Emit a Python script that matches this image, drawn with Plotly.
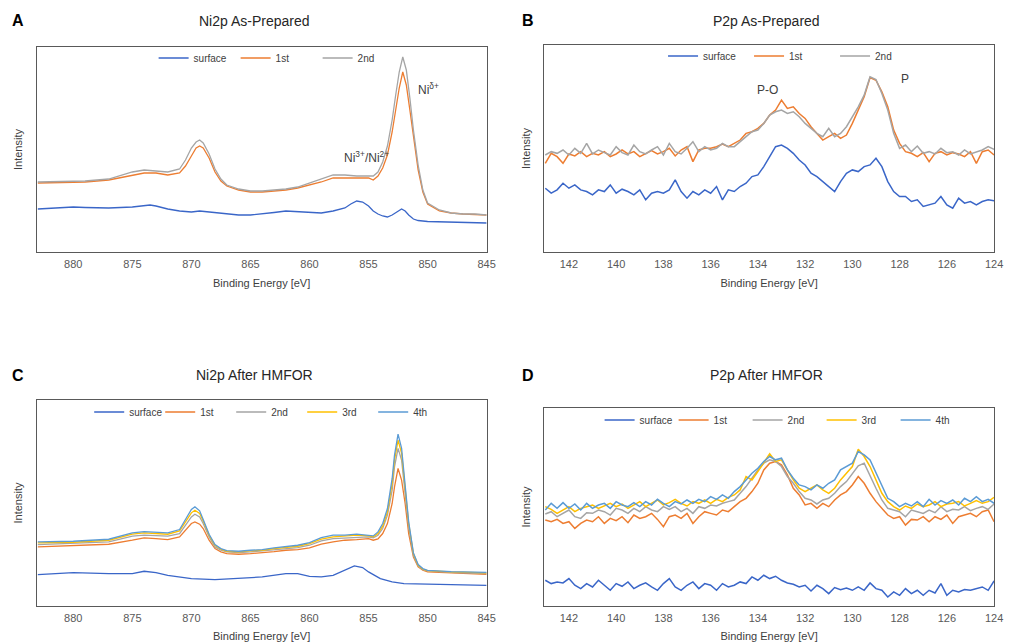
import plotly.graph_objects as go

# ---------------- Panel A: Ni2p As-Prepared ----------------
ni_a_energy = [883, 881, 879, 877, 875, 874, 873, 872, 871, 870.5, 870, 869.6, 869.3, 869, 868.5, 868, 867.5, 867,
               866, 865, 864, 863, 862, 861, 860, 859, 858, 857, 856, 855, 854.6, 854.2, 853.8, 853.4, 853, 852.7,
               852.4, 852.1, 851.8, 851.5, 851.2, 850.8, 850.4, 850, 849, 848, 847, 846, 845]
ni_a_1st = [69, 69.5, 70, 72, 77, 79, 79, 77, 79, 86, 96, 104, 106, 104, 94, 80, 71, 66, 62, 60, 60, 61, 62, 64, 67,
            70, 74, 74, 74, 74, 72, 76, 84, 97, 120, 142, 164, 180, 167, 142, 114, 82, 60, 48, 41, 39, 38, 37.5, 37]
ni_a_2nd = [70, 70.5, 71, 73, 80, 82, 81, 80, 83, 92, 104, 110, 112, 109, 98, 83, 73, 67, 63, 61, 61, 62, 63, 65, 69,
            73, 77, 77, 76, 76, 76, 80, 90, 106, 132, 157, 180, 195, 182, 154, 122, 87, 62, 49, 42, 39, 38, 38, 37]
ni_a_surf_energy = [883, 881, 880, 879, 877, 875, 874, 873.5, 873, 872, 871, 870, 869.3, 868.5, 868, 867, 866, 865,
                    864, 863, 862, 861, 860, 859.5, 859, 858, 857, 856.5, 856, 855.5, 855, 854.6, 854.2, 853.8,
                    853.4, 853, 852.6, 852.2, 851.9, 851.6, 851.2, 850.8, 850, 848, 847, 846, 845]
ni_a_surface = [43, 44, 45, 44.5, 44, 45, 46, 47, 46, 43, 41, 40, 41, 40, 39, 38, 37, 37, 38, 39.5, 41, 40.5, 40, 39,
                39, 41, 44, 48, 51, 50, 46, 41, 38, 36, 35, 37, 40, 43, 41, 37, 33, 31.5, 30.5, 30, 29, 29, 29]

# ---------------- Panel B: P2p As-Prepared ----------------
p_energy = [143 - 0.25 * i for i in range(77)]
p_b_1st = [310, 340, 330, 310, 338, 332, 345, 330, 340, 335, 345, 330, 338, 350, 338, 345, 330, 340, 348, 338,
           345, 355, 332, 350, 360, 315, 350, 355, 355, 360, 368, 360, 370, 380, 400, 405, 415, 430, 455, 470,
           500, 475, 480, 460, 445, 420, 400, 380, 390, 400, 385, 395, 430, 470, 510, 568, 560, 525, 480, 410,
           370, 345, 340, 330, 342, 315, 340, 345, 335, 342, 338, 330, 345, 310, 345, 350, 335]
p_b_2nd = [335, 345, 340, 350, 335, 355, 340, 370, 338, 350, 342, 335, 360, 342, 335, 365, 345, 338, 350, 360,
           335, 370, 345, 338, 355, 375, 345, 360, 350, 355, 370, 360, 360, 375, 390, 405, 410, 430, 455, 465,
           470, 460, 465, 450, 430, 415, 400, 390, 415, 390, 400, 420, 450, 480, 515, 570, 562, 520, 470, 400,
           355, 365, 345, 362, 340, 345, 338, 355, 342, 345, 335, 350, 338, 345, 350, 360, 352]
p_b_surface = [235, 220, 230, 250, 235, 245, 230, 225, 215, 230, 225, 245, 220, 232, 225, 215, 230, 200, 220, 225,
               220, 230, 260, 225, 205, 225, 215, 230, 220, 240, 200, 230, 225, 240, 250, 270, 275, 300, 330, 360,
               365, 355, 340, 320, 305, 280, 270, 255, 240, 225, 255, 280, 290, 285, 300, 305, 325, 300, 255, 225,
               210, 210, 195, 200, 180, 185, 190, 210, 185, 175, 205, 190, 195, 185, 195, 200, 197]

# ---------------- Panel C: Ni2p After HMFOR ----------------
ni_c_energy = [883, 880, 877, 875, 874, 873, 872, 871, 870.5, 870, 869.7, 869.3, 869, 868.5, 868, 867.5, 867, 866,
               865, 864, 863, 862, 861, 860, 859, 858, 857, 856, 855, 854.6, 854.2, 853.8, 853.4, 853, 852.8,
               852.5, 852.2, 851.9, 851.6, 851.2, 850.8, 850.4, 850, 848, 845]
ni_c_1st = [240, 243, 248, 260, 267, 265, 262, 270, 290, 310, 315, 308, 295, 260, 235, 225, 220, 218, 220, 222,
            226, 230, 232, 237, 248, 255, 260, 262, 265, 260, 264, 280, 310, 370, 420, 475, 440, 370, 280, 210,
            180, 170, 165, 162, 158]
ni_c_2nd = [247, 250, 255, 272, 275, 274, 272, 280, 305, 330, 338, 330, 310, 270, 240, 230, 225, 223, 225, 228,
            232, 235, 238, 245, 258, 265, 267, 270, 270, 267, 275, 295, 335, 410, 480, 535, 500, 400, 300, 215,
            183, 172, 168, 164, 160]
ni_c_3rd = [252, 254, 260, 278, 282, 280, 278, 288, 315, 342, 350, 340, 318, 275, 245, 233, 227, 225, 228, 230,
            235, 238, 242, 250, 263, 270, 272, 275, 273, 270, 280, 302, 345, 430, 500, 560, 520, 415, 310, 220,
            185, 173, 169, 165, 162]
ni_c_4th = [255, 257, 263, 282, 286, 284, 282, 292, 322, 352, 360, 348, 322, 278, 247, 235, 229, 227, 230, 232,
            237, 240, 245, 253, 268, 275, 275, 278, 275, 273, 285, 310, 355, 445, 515, 578, 535, 425, 315, 222,
            187, 175, 170, 166, 164]
ni_c_surf_energy = [883, 880, 877, 875, 874, 873, 872, 870, 868, 866, 864, 862, 861, 860, 859, 858, 857, 856.2,
                    855.5, 855, 854, 853, 852, 850, 848, 845]
ni_c_surface = [157, 163, 160, 160, 167, 163, 155, 145, 142, 145, 150, 160, 160, 152, 150, 155, 170, 183, 178, 165,
                145, 135, 130, 128, 127, 125]

# ---------------- Panel D: P2p After HMFOR ----------------
p_d_1st = [320, 315, 322, 310, 315, 295, 310, 320, 315, 330, 310, 325, 318, 330, 312, 335, 325, 330, 340, 322,
           300, 330, 335, 325, 340, 310, 330, 345, 340, 335, 350, 345, 360, 375, 385, 405, 430, 470, 490, 495,
           485, 455, 415, 395, 365, 370, 355, 370, 360, 380, 395, 405, 425, 450, 430, 400, 375, 355, 335, 325,
           330, 305, 322, 320, 330, 315, 330, 322, 335, 310, 330, 335, 340, 330, 345, 350, 315]
p_d_2nd = [338, 345, 330, 340, 350, 330, 325, 342, 340, 350, 345, 335, 355, 350, 340, 355, 345, 360, 350, 345,
           360, 352, 360, 345, 355, 340, 360, 355, 365, 362, 370, 375, 380, 400, 420, 445, 470, 490, 500, 495,
           480, 450, 430, 405, 385, 380, 368, 380, 385, 400, 420, 435, 460, 482, 490, 455, 415, 380, 355, 350,
           345, 330, 350, 345, 340, 350, 342, 360, 345, 352, 350, 360, 348, 355, 360, 352, 368]
p_d_3rd = [360, 352, 340, 350, 360, 345, 355, 360, 365, 355, 362, 370, 360, 368, 355, 365, 375, 360, 370, 380,
           365, 372, 382, 370, 362, 375, 370, 380, 370, 382, 375, 388, 395, 410, 450, 440, 465, 490, 518, 495,
           500, 470, 440, 415, 405, 415, 425, 410, 400, 415, 440, 460, 480, 532, 510, 480, 440, 400, 375, 360,
           350, 362, 355, 368, 360, 365, 375, 360, 368, 370, 375, 362, 370, 378, 370, 375, 388]
p_d_4th = [350, 370, 355, 372, 355, 368, 350, 370, 355, 365, 370, 355, 375, 365, 360, 372, 360, 375, 365, 382,
           370, 360, 375, 368, 380, 370, 382, 375, 390, 382, 395, 385, 405, 420, 440, 460, 475, 495, 510, 500,
           505, 470, 445, 425, 420, 410, 425, 415, 430, 440, 470, 480, 490, 525, 515, 500, 460, 420, 385, 375,
           360, 370, 362, 375, 360, 382, 365, 378, 370, 380, 365, 385, 375, 390, 375, 382, 370]
p_d_surface = [140, 130, 135, 132, 145, 125, 115, 130, 120, 140, 125, 110, 130, 122, 135, 115, 125, 132, 120, 110,
               130, 145, 120, 110, 125, 135, 115, 130, 125, 110, 130, 120, 125, 135, 130, 150, 140, 155, 145, 152,
               140, 132, 128, 120, 125, 108, 125, 115, 100, 118, 112, 117, 110, 120, 110, 132, 115, 110, 90, 105,
               95, 115, 100, 110, 95, 110, 102, 130, 95, 110, 105, 112, 110, 115, 120, 110, 138]

ni_ticks = [880, 875, 870, 865, 860, 855, 850, 845]
p_ticks = [142, 140, 138, 136, 134, 132, 130, 128, 126, 124]

C_SURF = "#3A66C8"
C_1ST = "#ED7D31"
C_2ND = "#A5A5A5"
C_3RD = "#FFC000"
C_4TH = "#5B9BD5"
FONT = "Liberation Sans, Arial, sans-serif"

fig = go.Figure()


def add(x, y, name, color, xa, ya, leg, width=1.5):
    fig.add_trace(go.Scatter(x=x, y=y, name=name, mode="lines", line=dict(color=color, width=width),
                             xaxis=xa, yaxis=ya, legend=leg))


# A
add(ni_a_surf_energy, ni_a_surface, "surface", C_SURF, "x", "y", "legend", 1.3)
add(ni_a_energy, ni_a_1st, "1st", C_1ST, "x", "y", "legend", 1.3)
add(ni_a_energy, ni_a_2nd, "2nd", C_2ND, "x", "y", "legend", 1.3)
# B
add(p_energy, p_b_surface, "surface", C_SURF, "x2", "y2", "legend2")
add(p_energy, p_b_1st, "1st", C_1ST, "x2", "y2", "legend2")
add(p_energy, p_b_2nd, "2nd", C_2ND, "x2", "y2", "legend2")
# C
add(ni_c_surf_energy, ni_c_surface, "surface", C_SURF, "x3", "y3", "legend3", 1.3)
add(ni_c_energy, ni_c_1st, "1st", C_1ST, "x3", "y3", "legend3", 1.3)
add(ni_c_energy, ni_c_2nd, "2nd", C_2ND, "x3", "y3", "legend3", 1.3)
add(ni_c_energy, ni_c_3rd, "3rd", C_3RD, "x3", "y3", "legend3", 1.3)
add(ni_c_energy, ni_c_4th, "4th", C_4TH, "x3", "y3", "legend3", 1.3)
# D
add(p_energy, p_d_surface, "surface", C_SURF, "x4", "y4", "legend4")
add(p_energy, p_d_1st, "1st", C_1ST, "x4", "y4", "legend4")
add(p_energy, p_d_2nd, "2nd", C_2ND, "x4", "y4", "legend4")
add(p_energy, p_d_3rd, "3rd", C_3RD, "x4", "y4", "legend4")
add(p_energy, p_d_4th, "4th", C_4TH, "x4", "y4", "legend4")

W, H = 1011, 642
LX = [37 / W, 491 / W]
RX = [549 / W, 1003 / W]


def ydom(top, bottom):
    return [1 - bottom / H, 1 - top / H]


axis_common = dict(showline=True, mirror=True, linecolor="#595959", linewidth=1, showgrid=False,
                   zeroline=False, ticks="", tickfont=dict(size=11, color="#595959", family=FONT))
xtitle = dict(text="Binding Energy [eV]", font=dict(size=11, color="#404040", family=FONT), standoff=10)
ytitle = dict(text="Intensity", font=dict(size=11, color="#404040", family=FONT), standoff=10)

fig.update_layout(
    width=W, height=H, margin=dict(l=0, r=0, t=0, b=0),
    paper_bgcolor="white", plot_bgcolor="white", font=dict(family=FONT),
    xaxis=dict(domain=LX, range=[883.1, 845], tickvals=ni_ticks, anchor="y", title=xtitle,
               ticklabelstandoff=2, **axis_common),
    yaxis=dict(domain=ydom(47, 252), range=[0, 205], showticklabels=False, anchor="x", title=ytitle, **axis_common),
    xaxis2=dict(domain=RX, range=[143.05, 124], tickvals=p_ticks, anchor="y2", title=xtitle,
                ticklabelstandoff=2, **axis_common),
    yaxis2=dict(domain=ydom(45, 252), range=[43, 666], showticklabels=False, anchor="x2", title=ytitle, **axis_common),
    xaxis3=dict(domain=LX, range=[883.1, 845], tickvals=ni_ticks, anchor="y3", title=xtitle,
                ticklabelstandoff=2, **axis_common),
    yaxis3=dict(domain=ydom(400, 606), range=[63, 680], showticklabels=False, anchor="x3", title=ytitle, **axis_common),
    xaxis4=dict(domain=RX, range=[143.05, 124], tickvals=p_ticks, anchor="y4", title=xtitle,
                ticklabelstandoff=2, **axis_common),
    yaxis4=dict(domain=ydom(408, 606), range=[63, 655], showticklabels=False, anchor="x4", title=ytitle, **axis_common),
)

leg_common = dict(orientation="h", xanchor="left", yanchor="middle", bgcolor="rgba(0,0,0,0)",
                  font=dict(size=10, color="#404040", family=FONT), entrywidthmode="pixels",
                  itemwidth=30, tracegroupgap=0)
fig.update_layout(
    legend=dict(x=155 / W, y=1 - 58 / H, entrywidth=37, **leg_common),
    legend2=dict(x=669 / W, y=1 - 56 / H, entrywidth=41, **leg_common),
    legend3=dict(x=90 / W, y=1 - 412 / H, entrywidth=26, **leg_common),
    legend4=dict(x=605 / W, y=1 - 420 / H, entrywidth=29, **leg_common),
)

ann = []
for txt, x in [("Ni2p As-Prepared", 257), ("P2p As-Prepared", 773)]:
    ann.append(dict(text=txt, x=x / W, y=1 - 21 / H, xref="paper", yref="paper", showarrow=False,
                    font=dict(size=14, color="#262626", family=FONT), xanchor="center", yanchor="middle"))
for txt, x in [("Ni2p After HMFOR", 257), ("P2p After HMFOR", 773)]:
    ann.append(dict(text=txt, x=x / W, y=1 - 375 / H, xref="paper", yref="paper", showarrow=False,
                    font=dict(size=14, color="#262626", family=FONT), xanchor="center", yanchor="middle"))
for txt, x, y in [("A", 18, 21), ("B", 533, 21), ("C", 18, 375), ("D", 533, 375)]:
    ann.append(dict(text="<b>" + txt + "</b>", x=x / W, y=1 - y / H, xref="paper", yref="paper", showarrow=False,
                    font=dict(size=16, color="black", family=FONT), xanchor="center", yanchor="middle"))
ann.append(dict(text="Ni<sup>3+</sup>/Ni<sup>2+</sup>", x=855.2, y=95, xref="x", yref="y", showarrow=False,
                font=dict(size=12, color="#404040", family=FONT)))
ann.append(dict(text="Ni<sup>δ+</sup>", x=849.9, y=163, xref="x", yref="y", showarrow=False,
                font=dict(size=12, color="#404040", family=FONT)))
ann.append(dict(text="P-O", x=133.6, y=532, xref="x2", yref="y2", showarrow=False,
                font=dict(size=12, color="#404040", family=FONT)))
ann.append(dict(text="P", x=127.75, y=563, xref="x2", yref="y2", showarrow=False,
                font=dict(size=12, color="#404040", family=FONT)))
fig.update_layout(annotations=ann)

fig.write_html("out.html", config={"displayModeBar": False},
               post_script="document.body.style.margin='0';")
